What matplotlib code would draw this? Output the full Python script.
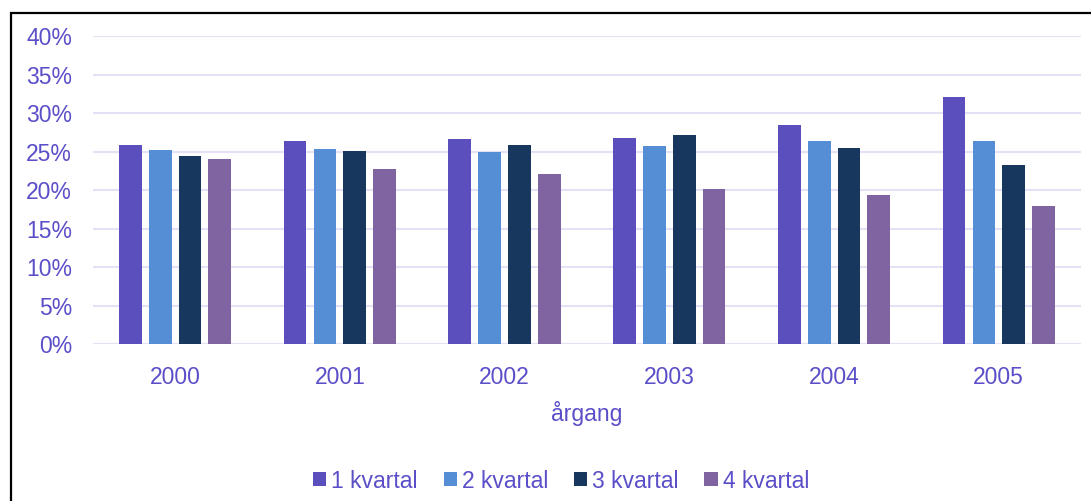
import matplotlib.pyplot as plt
import numpy as np
from matplotlib.patches import Rectangle
from matplotlib.ticker import PercentFormatter

years = ['2000', '2001', '2002', '2003', '2004', '2005']
series_names = ['1 kvartal', '2 kvartal', '3 kvartal', '4 kvartal']
q1 = [25.9, 26.4, 26.7, 26.8, 28.4, 32.1]
q2 = [25.2, 25.4, 25.0, 25.7, 26.4, 26.4]
q3 = [24.4, 25.1, 25.9, 27.2, 25.5, 23.3]
q4 = [24.1, 22.8, 22.1, 20.1, 19.4, 17.9]
y_ticks = [0, 5, 10, 15, 20, 25, 30, 35, 40]

colors = ['#5B4FBE', '#558ED5', '#17375E', '#8064A2']
text_color = '#5A4FC8'
grid_color = '#E4E0F6'

plt.rcParams['font.family'] = ['Liberation Sans', 'DejaVu Sans']

fig = plt.figure(figsize=(10.91, 5.01), dpi=100)
ax = fig.add_axes([0.085, 0.313, 0.906, 0.615])

x = np.arange(len(years))
pitch = 0.181
width = 0.138
for i, (vals, name) in enumerate(zip([q1, q2, q3, q4], series_names)):
    ax.bar(x + (i - 1.5) * pitch, vals, width=width, color=colors[i],
           label=name, zorder=3)

ax.set_xlim(-0.5, len(years) - 0.5)
ax.set_ylim(0, 40)
ax.set_yticks(y_ticks)
ax.yaxis.set_major_formatter(PercentFormatter(decimals=0))
ax.set_xticks(x)
ax.set_xticklabels(years)

ax.grid(axis='y', color=grid_color, linewidth=1.5, zorder=0)
for s in ax.spines.values():
    s.set_visible(False)
ax.tick_params(axis='both', length=0, labelsize=16.5, labelcolor=text_color)
ax.tick_params(axis='x', pad=16)
ax.tick_params(axis='y', pad=15)
ax.set_xlabel('årgang', fontsize=16.5, color=text_color, labelpad=8)

leg = fig.legend(loc='center', bbox_to_anchor=(561 / 1091, 1 - 481 / 501),
                 ncol=4, frameon=False, fontsize=16.5,
                 handlelength=0.57, handleheight=0.57, handletextpad=0.22,
                 columnspacing=1.13)
for t in leg.get_texts():
    t.set_color(text_color)

# black frame around the chart, runs off the right and bottom edges
fig.patches.append(Rectangle((11 / 1091, -0.1), 1.2, 1 - 13 / 501 + 0.1,
                             transform=fig.transFigure, fill=False,
                             edgecolor='black', linewidth=1.6))

fig.savefig('out.png', dpi=100)
